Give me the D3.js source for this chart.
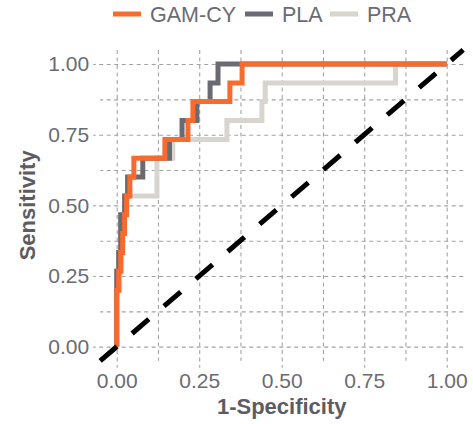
<!DOCTYPE html>
<html>
<head>
<meta charset="utf-8">
<script src="https://cdn.jsdelivr.net/npm/d3@7"></script>
<style>
  html, body { margin: 0; padding: 0; background: #ffffff; }
  svg { display: block; font-family: "Liberation Sans", Arial, sans-serif; }
</style>
</head>
<body>
<svg id="chart" width="473" height="424"></svg>
<script>
// ---- data (ROC step corners: rise at previous fpr, then run to this fpr) ----
const seriesNames = ["GAM-CY", "PLA", "PRA"];
const gamFpr = [0, 0.006, 0.012, 0.018, 0.024, 0.030, 0.040, 0.052, 0.146, 0.216, 0.231, 0.343, 0.380, 1];
const gamTpr = [0, 0.200, 0.267, 0.333, 0.400, 0.467, 0.533, 0.600, 0.667, 0.733, 0.800, 0.867, 0.933, 1];
const plaFpr = [0, 0.006, 0.012, 0.024, 0.033, 0.079, 0.160, 0.198, 0.243, 0.283, 0.307, 1];
const plaTpr = [0, 0.267, 0.333, 0.467, 0.533, 0.600, 0.667, 0.733, 0.800, 0.867, 0.933, 1];
const praFpr = [0, 0.009, 0.015, 0.021, 0.030, 0.122, 0.170, 0.334, 0.440, 0.450, 0.845, 1];
const praTpr = [0, 0.200, 0.267, 0.400, 0.467, 0.533, 0.667, 0.733, 0.800, 0.867, 0.933, 1];
const majorTicks = [0, 0.25, 0.5, 0.75, 1];
const minorTicks = [0.125, 0.375, 0.625, 0.875];
const tickLabels = ["0.00", "0.25", "0.50", "0.75", "1.00"];
const refLine = [-0.05, 1.05];

// ---- styles ----
const colors = { "GAM-CY": "#f96a2e", "PLA": "#6a6a72", "PRA": "#d8d5ce" };
const gridColor = "#a3a3a3";
const textColor = "#6b6b72";
const titleColor = "#5c5c62";

const svg = d3.select("#chart");
const L = 100.2, R = 463.2, T = 49.9, B = 360.8;
const x = d3.scaleLinear().domain([-0.05, 1.05]).range([L, R]);
const y = d3.scaleLinear().domain([-0.05, 1.05]).range([B, T]);

function styleGrid(g) {
  g.select(".domain").remove();
  g.selectAll(".tick line")
    .attr("stroke", gridColor)
    .attr("stroke-width", 1.1)
    .attr("stroke-dasharray", "4,3.5");
  g.selectAll(".tick text")
    .attr("fill", textColor)
    .attr("font-size", 21);
}

// minor grid
svg.append("g").attr("transform", `translate(0,${T})`)
  .call(d3.axisBottom(x).tickValues(minorTicks).tickSize(B - T).tickFormat(""))
  .call(styleGrid);
svg.append("g").attr("transform", `translate(${R},0)`)
  .call(d3.axisLeft(y).tickValues(minorTicks).tickSize(R - L).tickFormat(""))
  .call(styleGrid);

// major grid + ticks + labels
svg.append("g").attr("transform", `translate(0,${T})`)
  .call(d3.axisBottom(x).tickValues(majorTicks).tickSize(B - T + 7).tickPadding(5)
    .tickFormat((d, i) => tickLabels[i]))
  .call(styleGrid);
svg.append("g").attr("transform", `translate(${R},0)`)
  .call(d3.axisLeft(y).tickValues(majorTicks).tickSize(R - L + 7).tickPadding(4)
    .tickFormat((d, i) => tickLabels[i]))
  .call(styleGrid);

// curves
const line = d3.line().x(d => x(d[0])).y(d => y(d[1])).curve(d3.curveStepBefore);
const data = {
  "GAM-CY": d3.zip(gamFpr, gamTpr),
  "PLA": d3.zip(plaFpr, plaTpr),
  "PRA": d3.zip(praFpr, praTpr)
};
["PRA", "PLA", "GAM-CY"].forEach(name => {
  svg.append("path")
    .attr("d", line(data[name]))
    .attr("fill", "none")
    .attr("stroke", colors[name])
    .attr("stroke-width", 5)
    .attr("stroke-linejoin", "miter")
    .attr("stroke-linecap", "butt");
});

// reference diagonal
svg.append("path")
  .attr("d", d3.line().x(d => x(d)).y(d => y(d))(refLine))
  .attr("fill", "none")
  .attr("stroke", "#000")
  .attr("stroke-width", 5)
  .attr("stroke-dasharray", "22,20");

// axis titles
svg.append("text")
  .attr("x", (L + R) / 2).attr("y", 414)
  .attr("text-anchor", "middle")
  .attr("font-size", 22).attr("font-weight", "bold")
  .attr("fill", titleColor)
  .text("1-Specificity");
svg.append("text")
  .attr("transform", `translate(35,${(T + B) / 2}) rotate(-90)`)
  .attr("text-anchor", "middle")
  .attr("font-size", 22).attr("font-weight", "bold")
  .attr("fill", titleColor)
  .text("Sensitivity");

// legend
const legendX = [113, 245, 330];
const leg = svg.append("g");
seriesNames.forEach((name, i) => {
  leg.append("line")
    .attr("x1", legendX[i]).attr("x2", legendX[i] + 28)
    .attr("y1", 14).attr("y2", 14)
    .attr("stroke", colors[name]).attr("stroke-width", 5);
  leg.append("text")
    .attr("x", legendX[i] + 37).attr("y", 21.5)
    .attr("font-size", 21.5)
    .attr("fill", textColor)
    .text(name);
});
</script>
</body>
</html>
